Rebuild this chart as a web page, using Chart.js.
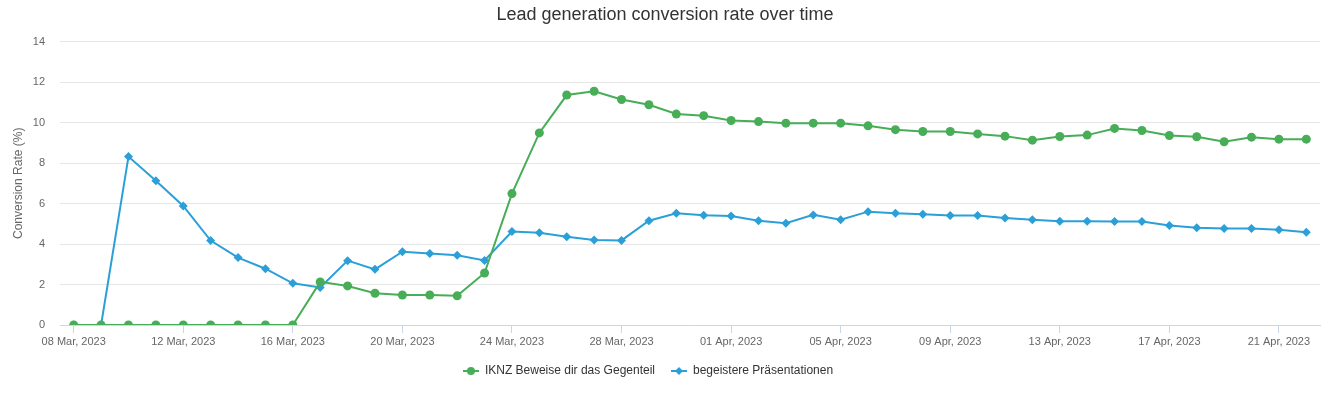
<!DOCTYPE html>
<html>
<head>
<meta charset="utf-8">
<script src="https://cdn.jsdelivr.net/npm/chart.js@4"></script>
<style>
  html, body { margin: 0; padding: 0; background: #fff; }
  #wrap { width: 1330px; height: 393px; }
</style>
</head>
<body>
<div id="wrap"><canvas id="line-chart" width="1330" height="393"></canvas></div>
<script>
// categories (one per day)
const days = [
  '08 Mar, 2023', '09 Mar, 2023', '10 Mar, 2023', '11 Mar, 2023', '12 Mar, 2023', '13 Mar, 2023',
  '14 Mar, 2023', '15 Mar, 2023', '16 Mar, 2023', '17 Mar, 2023', '18 Mar, 2023', '19 Mar, 2023',
  '20 Mar, 2023', '21 Mar, 2023', '22 Mar, 2023', '23 Mar, 2023', '24 Mar, 2023', '25 Mar, 2023',
  '26 Mar, 2023', '27 Mar, 2023', '28 Mar, 2023', '29 Mar, 2023', '30 Mar, 2023', '31 Mar, 2023',
  '01 Apr, 2023', '02 Apr, 2023', '03 Apr, 2023', '04 Apr, 2023', '05 Apr, 2023', '06 Apr, 2023',
  '07 Apr, 2023', '08 Apr, 2023', '09 Apr, 2023', '10 Apr, 2023', '11 Apr, 2023', '12 Apr, 2023',
  '13 Apr, 2023', '14 Apr, 2023', '15 Apr, 2023', '16 Apr, 2023', '17 Apr, 2023', '18 Apr, 2023',
  '19 Apr, 2023', '20 Apr, 2023', '21 Apr, 2023', '22 Apr, 2023'
];

// series values (%)
const ikinzValues = [
  0, 0, 0, 0, 0, 0, 0, 0, 0, 2.13, 1.93, 1.57,
  1.48, 1.48, 1.44, 2.57, 6.49, 9.49, 11.36, 11.55, 11.14, 10.88, 10.42, 10.34,
  10.10, 10.05, 9.97, 9.97, 9.97, 9.84, 9.65, 9.56, 9.56, 9.44, 9.33, 9.13,
  9.31, 9.38, 9.71, 9.61, 9.36, 9.30, 9.05, 9.28, 9.18, 9.18
];
const praesValues = [
  0, 0, 8.32, 7.13, 5.88, 4.17, 3.33, 2.78, 2.06, 1.85, 3.18, 2.75,
  3.62, 3.53, 3.45, 3.19, 4.62, 4.56, 4.36, 4.20, 4.18, 5.15, 5.52, 5.42,
  5.39, 5.15, 5.03, 5.44, 5.20, 5.60, 5.52, 5.47, 5.41, 5.41, 5.29, 5.20,
  5.13, 5.13, 5.11, 5.11, 4.92, 4.80, 4.77, 4.77, 4.71, 4.58
];

const seriesNames = ['IKNZ Beweise dir das Gegenteil', 'begeistere Präsentationen'];
const yTicks = [0, 2, 4, 6, 8, 10, 12, 14];

const green = '#47ad57';
const blue = '#2b9fd8';

// small line+marker symbol for the legend
function legendSymbol(color, shape) {
  const c = document.createElement('canvas');
  c.width = 16; c.height = 10;
  const ctx = c.getContext('2d');
  ctx.strokeStyle = color;
  ctx.lineWidth = 2;
  ctx.beginPath();
  ctx.moveTo(0, 5); ctx.lineTo(16, 5);
  ctx.stroke();
  ctx.fillStyle = color;
  ctx.beginPath();
  if (shape === 'circle') {
    ctx.arc(8, 5, 4, 0, Math.PI * 2);
  } else {
    ctx.moveTo(8, 1); ctx.lineTo(12, 5); ctx.lineTo(8, 9); ctx.lineTo(4, 5);
    ctx.closePath();
  }
  ctx.fill();
  return c;
}

const symbols = [legendSymbol(green, 'circle'), legendSymbol(blue, 'diamond')];

// nudge title and legend horizontally to sit where the original has them
const nudge = {
  id: 'nudge',
  afterLayout(chart) {
    if (chart.titleBlock) { chart.titleBlock.left += 5; chart.titleBlock.right += 5; }
    if (chart.legend) { chart.legend.left -= 12; chart.legend.right -= 12; }
  },
};

const info = {
  labels: days,
  datasets: [
    {
      label: seriesNames[0],
      data: ikinzValues,
      borderColor: green,
      backgroundColor: green,
      borderWidth: 2,
      pointStyle: 'circle',
      pointRadius: 4.5,
      pointBorderWidth: 0,
      tension: 0,
    },
    {
      label: seriesNames[1],
      data: praesValues,
      borderColor: blue,
      backgroundColor: blue,
      borderWidth: 2,
      pointStyle: 'rectRot',
      pointRadius: 4.5,
      pointBorderWidth: 0,
      tension: 0,
    },
  ],
};

const options = {
  responsive: false,
  animation: false,
  layout: { padding: { left: 0, right: 10, top: 0, bottom: 6 } },
  scales: {
    x: {
      offset: true,
      afterFit: (scale) => { scale.height = 24; },
      grid: {
        drawOnChartArea: false,
        tickLength: 8,
        tickColor: '#ccd6eb',
      },
      border: { display: true, color: '#ccd6eb', width: 1 },
      ticks: {
        autoSkip: false,
        maxRotation: 0,
        padding: 2,
        color: '#666',
        font: { family: 'Liberation Sans, Arial, sans-serif', size: 11 },
        callback: function (value, index) {
          return index % 4 === 0 ? days[index] : null;
        },
      },
    },
    y: {
      min: 0,
      max: 14,
      afterFit: (scale) => { scale.width = 60; },
      afterBuildTicks: (scale) => { scale.ticks = yTicks.map((v) => ({ value: v })); },
      grid: { color: '#e6e6e6', drawTicks: false },
      border: { display: false },
      ticks: {
        padding: 15,
        color: '#666',
        font: { family: 'Liberation Sans, Arial, sans-serif', size: 11 },
      },
      title: {
        display: true,
        text: 'Conversion Rate (%)',
        color: '#666',
        padding: { top: 11, bottom: 0 },
        font: { family: 'Liberation Sans, Arial, sans-serif', size: 12 },
      },
    },
  },
  plugins: {
    title: {
      display: true,
      text: 'Lead generation conversion rate over time',
      color: '#333',
      padding: { top: 4, bottom: 16 },
      font: { family: 'Liberation Sans, Arial, sans-serif', size: 18, weight: 'normal' },
    },
    legend: {
      position: 'bottom',
      labels: {
        usePointStyle: true,
        pointStyleWidth: 16,
        padding: 16,
        color: '#333',
        font: { family: 'Liberation Sans, Arial, sans-serif', size: 12 },
        generateLabels: (chart) => chart.data.datasets.map((ds, i) => ({
          text: ds.label,
          fontColor: '#333',
          pointStyle: symbols[i],
          strokeStyle: ds.borderColor,
          fillStyle: ds.backgroundColor,
          lineWidth: 0,
          hidden: false,
          datasetIndex: i,
        })),
      },
    },
    tooltip: { enabled: false },
  },
};

new Chart(document.getElementById('line-chart'), { type: 'line', data: info, options, plugins: [nudge] });
</script>
</body>
</html>
